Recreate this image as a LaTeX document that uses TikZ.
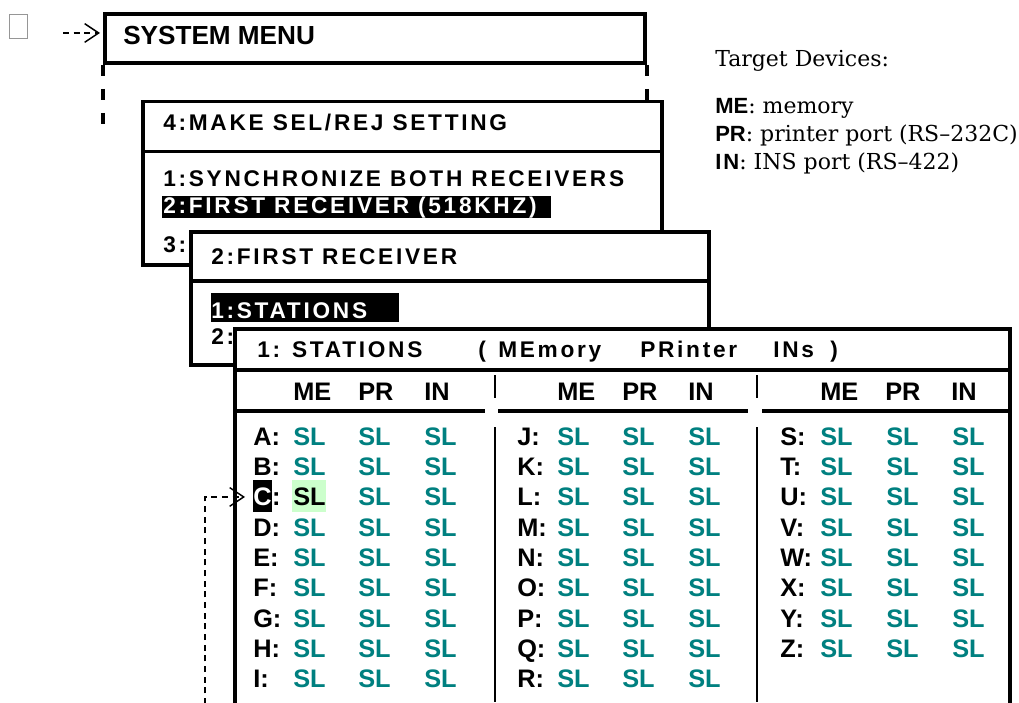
\documentclass[tikz,border=0pt]{standalone}
\usepackage{fontspec}
\setmainfont{DejaVu Serif}
\newfontfamily\arialf{Liberation Sans}
\newfontfamily\menuf[LetterSpace=12]{Liberation Sans}
\usetikzlibrary{arrows.meta}
\definecolor{slteal}{RGB}{0,128,128}
\definecolor{hlgreen}{RGB}{204,255,204}
\definecolor{chkgray}{RGB}{150,150,150}
\newcommand\leglab[1]{{\arialf\bfseries\fontsize{16.5}{18}\selectfont #1}}
\tikzset{
  menuframe/.style={draw=black, line width=2.7pt, fill=white},
  tableframe/.style={draw=black, line width=3pt, fill=white},
  thickrule/.style={line width=3pt},
  thinrule/.style={line width=1.5pt},
  sysdash/.style={line width=3pt, dash pattern=on 8.25pt off 9.75pt},
  systxt/.style={anchor=base west, inner sep=0pt, font=\arialf\bfseries\fontsize{19.6}{21}\selectfont},
  menutxt/.style={anchor=base west, inner sep=0pt, font=\menuf\bfseries\fontsize{17}{19}\selectfont},
  celltxt/.style={anchor=base west, inner sep=0pt, font=\arialf\bfseries\fontsize{19}{21}\selectfont},
  legtxt/.style={anchor=base west, inner sep=0pt, font=\fontsize{16.5}{18}\selectfont},
  dasharrow/.style={line width=1.1pt, dash pattern=on 4.5pt off 3.5pt,
    -{Straight Barb[length=10.5pt,width=14pt,line width=1.1pt]}},
  hlbar/.style={fill=black, draw=none},
}
\begin{document}
\begin{tikzpicture}[x=0.75pt,y=-0.75pt]
\useasboundingbox (0,0) rectangle (1019,702);
\fill[white] (0,0) rectangle (1019,702);

% check box and entry arrow
\node[draw=chkgray, line width=0.9pt, minimum width=13.5pt, minimum height=18pt,
      inner sep=0pt, anchor=north west] (chk) at (9,14) {};
\coordinate (a0) at (63,33);

% SYSTEM MENU
\node[menuframe, line width=3pt, minimum width=405pt, minimum height=36.75pt,
      inner sep=0pt, anchor=north west] (sys) at (103,12) {};
\node[systxt] (systitle) at (123,45) {SYSTEM MENU};
\draw[sysdash] (sys.south west) -- ++(0,59);
\draw[sysdash] (sys.south east) -- ++(0,36);
\draw[dasharrow, shorten >=2.25pt] (a0) -- (sys.west |- a0);

% 4:MAKE SEL/REJ SETTING
\draw[menuframe] (143,101.5) rectangle (662,265);
\draw[line width=2.7pt] (143,151.5) -- (662,151.5);
\node[menutxt] (m1title) at (163,131) {4:MAKE SEL/REJ SETTING};
\node[menutxt] (m1a) at (163,187) {1:SYNCHRONIZE BOTH RECEIVERS};
\fill[hlbar] (162,196) rectangle (551,218);
\node[menutxt, text=white] (m1b) at (163,214) {2:FIRST RECEIVER (518KHZ)};
\node[menutxt] (m1c) at (163,252) {3:S};

% 2:FIRST RECEIVER
\draw[menuframe] (191,232) rectangle (709,365);
\draw[line width=2.7pt] (191,281) -- (709,281);
\node[menutxt] (m2title) at (211,264) {2:FIRST RECEIVER};
\fill[hlbar] (211,293) rectangle (399,322);
\node[menutxt, text=white] (m2a) at (211,318) {1:STATIONS};
\node[menutxt] (m2b) at (211,344) {2:};

% 1: STATIONS table
\draw[tableframe] (235,329) rectangle (1010,706);
\draw[thickrule] (235,369.5) -- (1010,369.5);
\draw[thickrule] (235,411) -- (485,411);
\draw[thickrule] (498,411) -- (748,411);
\draw[thickrule] (762,411) -- (1010,411);
\draw[thinrule] (494.5,375) -- (494.5,398);
\draw[thinrule] (494.5,427) -- (494.5,702);
\draw[thinrule] (757,375) -- (757,398);
\draw[thinrule] (757,427) -- (757,702);

\node[menutxt] (tt1) at (257,357) {1: STATIONS};
\node[menutxt] (tt2) at (478,357) {(};
\node[menutxt] (tt3) at (498,357) {MEmory};
\node[menutxt] (tt4) at (640,357) {PRinter};
\node[menutxt] (tt5) at (773,357) {INs};
\node[menutxt] (tt6) at (830,357) {)};

\foreach \c/\lx in {1/253,2/517,3/780}{
  \node[celltxt] (hME\c) at ({\lx+40},400) {ME};
  \node[celltxt] (hPR\c) at ({\lx+105},400) {PR};
  \node[celltxt] (hIN\c) at ({\lx+171},400) {IN};
}

% highlights for row C
\fill[black] (253,480) rectangle (272,512);
\fill[hlgreen] (292,480) rectangle (326,512);

% row letters
\foreach \L/\r in {A/0,B/1,D/3,E/4,F/5,G/6,H/7,I/8}
  \node[celltxt] (l\L) at (253,{445+30.35*\r}) {\L:};
\node[celltxt, text=white] (lC) at (253,{445+30.35*2}) {C};
\node[celltxt, anchor=base west] (lCc) at (lC.base east) {:};
\foreach \L/\r in {J/0,K/1,L/2,M/3,N/4,O/5,P/6,Q/7,R/8}
  \node[celltxt] (l\L) at (517,{445+30.35*\r}) {\L:};
\foreach \L/\r in {S/0,T/1,U/2,V/3,W/4,X/5,Y/6,Z/7}
  \node[celltxt] (l\L) at (780,{445+30.35*\r}) {\L:};

% SL cells
\foreach \r in {0,...,8}{
  \foreach \k/\dx in {1/40,2/105,3/171}{
    \ifnum\r\k=21 \def\slcol{black}\else\def\slcol{slteal}\fi
    \node[celltxt, text=\slcol] (sa\r\k) at ({253+\dx},{445+30.35*\r}) {SL};
    \node[celltxt, text=slteal] (sb\r\k) at ({517+\dx},{445+30.35*\r}) {SL};
  }
}
\foreach \r in {0,...,7}{
  \foreach \k/\dx in {1/40,2/106,3/172}{
    \node[celltxt, text=slteal] (sc\r\k) at ({780+\dx},{445+30.35*\r}) {SL};
  }
}

% arrow to row C
\coordinate (cstart) at (205,704);
\draw[dasharrow, shorten >=6pt] (cstart) |- (lC.west);

% legend
\node[legtxt] (lgT) at (715,67) {Target Devices:};
\node[legtxt] (lgME) at (715,114) {\leglab{ME}: memory};
\node[legtxt] (lgPR) at (715,142) {\leglab{PR}: printer port (RS–232C)};
\node[legtxt] (lgIN) at (715,170) {\leglab{I\kern1.5pt N}: INS port (RS–422)};
\end{tikzpicture}
\end{document}
